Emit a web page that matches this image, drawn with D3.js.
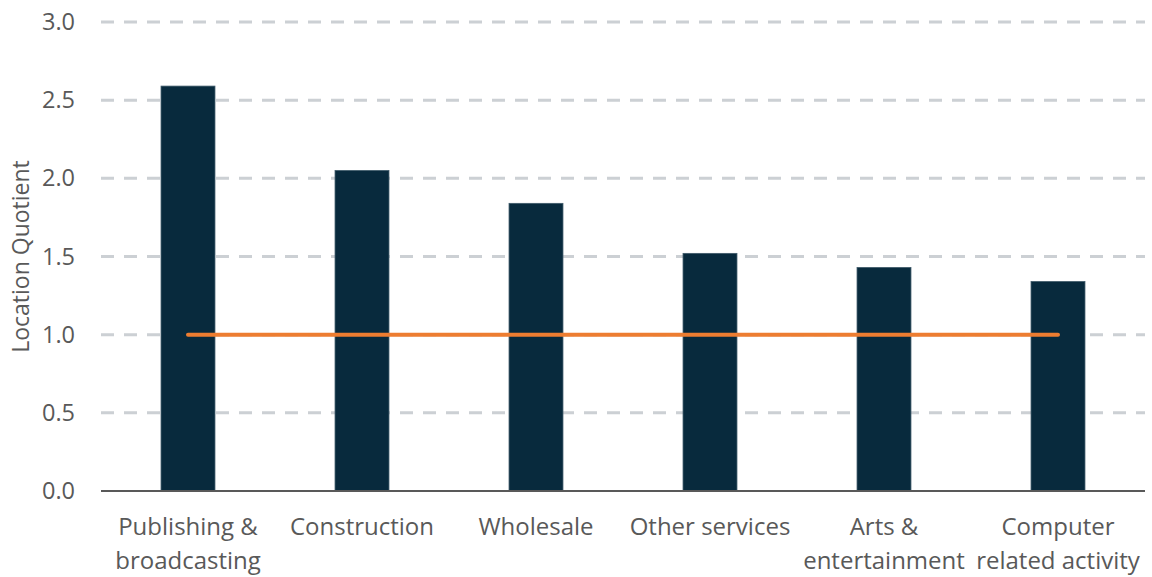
<!DOCTYPE html>
<html>
<head>
<meta charset="utf-8">
<script src="https://cdn.jsdelivr.net/npm/d3@7"></script>
<style>
  body { margin: 0; background: #fff; }
  text { font-family: "Open Sans", sans-serif; fill: #595959; }
</style>
</head>
<body>
<script>
// data
var categories = [["Publishing &", "broadcasting"], ["Construction"], ["Wholesale"],
                  ["Other services"], ["Arts &", "entertainment"], ["Computer", "related activity"]];
var quotients = [2.59, 2.05, 1.84, 1.52, 1.43, 1.34];
var baseline = [1, 1, 1, 1, 1, 1];
var yTicks = [0, 0.5, 1, 1.5, 2, 2.5, 3];

var W = 1152, H = 577;
var margin = {top: 22, right: 7, bottom: 86, left: 101},
    width = W - margin.left - margin.right,
    height = H - margin.top - margin.bottom;

var keys = categories.map(function(c) { return c.join(" "); });

var x = d3.scaleBand()
    .domain(keys)
    .range([0, width])
    .paddingInner(0.69)
    .paddingOuter(0.345);
var y = d3.scaleLinear()
    .domain([0, 3])
    .range([height, 0]);

var svg = d3.select("body").append("svg")
    .attr("width", W)
    .attr("height", H)
  .append("g")
    .attr("transform", "translate(" + margin.left + "," + margin.top + ")");

// dashed gridlines
svg.append("g")
  .selectAll("line")
  .data(yTicks.filter(function(t) { return t > 0; }))
  .enter().append("line")
    .attr("x1", 0)
    .attr("x2", width)
    .attr("y1", function(d) { return y(d); })
    .attr("y2", function(d) { return y(d); })
    .attr("stroke", "#ccd0d4")
    .attr("stroke-width", 3)
    .attr("stroke-dasharray", "13,10");

// y axis labels
var yAxis = svg.append("g")
    .call(d3.axisLeft(y).tickValues(yTicks).tickFormat(d3.format(".1f")).tickSize(0).tickPadding(26));
yAxis.select(".domain").remove();
yAxis.selectAll("text")
    .style("font-size", "23.5px")
    .style("font-family", "'Open Sans', sans-serif")
    .style("fill", "#595959");

// bars
svg.selectAll(".bar")
    .data(quotients)
  .enter().append("rect")
    .attr("class", "bar")
    .attr("x", function(d, i) { return x(keys[i]); })
    .attr("width", x.bandwidth())
    .attr("y", function(d) { return y(d); })
    .attr("height", function(d) { return height - y(d); })
    .attr("fill", "#082a3d")
    .attr("stroke", "#3f5a6a")
    .attr("stroke-width", 0.8);

// baseline axis
svg.append("line")
    .attr("x1", 0)
    .attr("x2", width)
    .attr("y1", y(0))
    .attr("y2", y(0))
    .attr("stroke", "#595959")
    .attr("stroke-width", 2);

// reference line at 1.0
var line = d3.line()
    .x(function(d, i) { return x(keys[i]) + x.bandwidth() / 2; })
    .y(function(d) { return y(d); });
svg.append("path")
    .datum(baseline)
    .attr("d", line)
    .attr("fill", "none")
    .attr("stroke", "#ed7d31")
    .attr("stroke-width", 4)
    .attr("stroke-linecap", "round");

// x labels
var xl = svg.append("g")
  .selectAll("text")
  .data(categories)
  .enter().append("text")
    .attr("text-anchor", "middle")
    .attr("x", function(d, i) { return x(keys[i]) + x.bandwidth() / 2; })
    .attr("y", height + 44)
    .style("font-size", "24px");
xl.selectAll("tspan")
  .data(function(d) { return d; })
  .enter().append("tspan")
    .attr("x", function() { return d3.select(this.parentNode).attr("x"); })
    .attr("dy", function(d, i) { return i === 0 ? 0 : 34; })
    .text(function(d) { return d; });

// y axis title
svg.append("text")
    .attr("transform", "translate(" + (-72) + "," + (height / 2) + ") rotate(-90)")
    .attr("text-anchor", "middle")
    .style("font-size", "23px")
    .text("Location Quotient");
</script>
</body>
</html>
